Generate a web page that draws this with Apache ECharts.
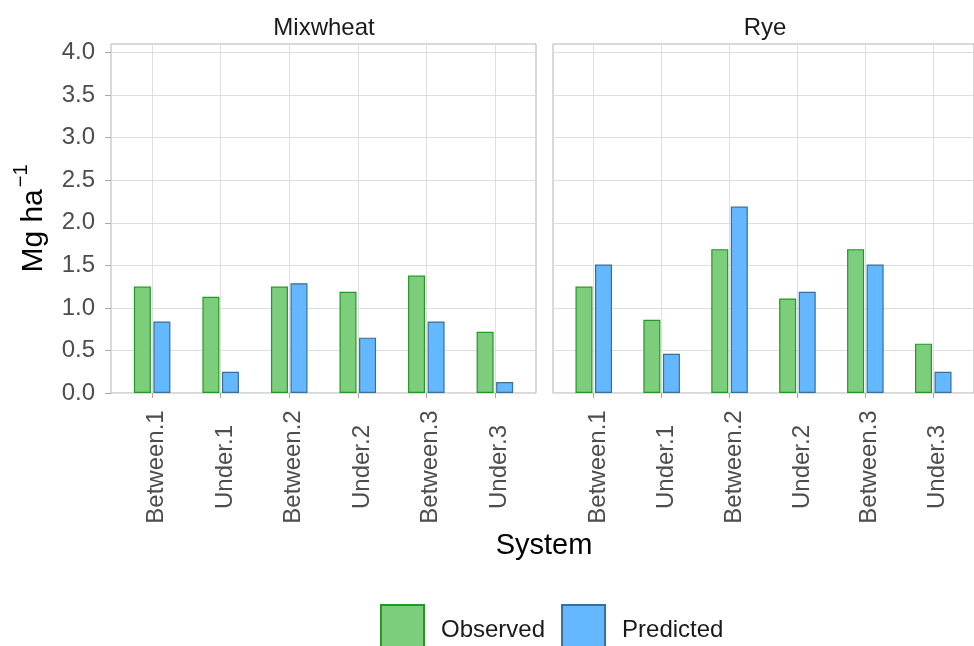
<!DOCTYPE html>
<html>
<head>
<meta charset="utf-8">
<script src="https://cdn.jsdelivr.net/npm/echarts@6/dist/echarts.min.js"></script>
<style>html,body{margin:0;padding:0;background:#fff;}#c{width:974px;height:646px;}</style>
</head>
<body>
<div id="c"></div>
<script>
const categories = ['Between.1', 'Under.1', 'Between.2', 'Under.2', 'Between.3', 'Under.3'];
const panels = ['Mixwheat', 'Rye'];
const mixwheatObserved = [1.25, 1.13, 1.25, 1.19, 1.38, 0.72];
const mixwheatPredicted = [0.84, 0.25, 1.29, 0.65, 0.84, 0.13];
const ryeObserved = [1.25, 0.86, 1.69, 1.11, 1.69, 0.58];
const ryePredicted = [1.51, 0.46, 2.19, 1.19, 1.51, 0.25];
const yTicks = [0, 0.5, 1.0, 1.5, 2.0, 2.5, 3.0, 3.5, 4.0];

const FONT = '"Liberation Sans", Arial, sans-serif';
const catIdx = categories.map((c, i) => i);
const toPts = arr => arr.map((v, i) => [i, v]);

const grids = [
  { left: 111, top: 44, width: 425, height: 349, show: true, borderColor: '#b3b3b3', borderWidth: 1, backgroundColor: '#fff' },
  { left: 553, top: 44, width: 425, height: 349, show: true, borderColor: '#b3b3b3', borderWidth: 1, backgroundColor: '#fff' }
];

function xAxisFor(i) {
  return {
    type: 'value', gridIndex: i, min: -0.6, max: 5.6,
    axisLine: { show: false, onZero: false },
    axisTick: { show: true, length: 5, lineStyle: { color: '#a8a8a8' }, customValues: catIdx },
    axisLabel: {
      customValues: catIdx, rotate: 90, align: 'center', verticalAlign: 'middle', margin: 74,
      color: '#4d4d4d', fontSize: 24, fontFamily: FONT,
      formatter: v => '{p|' + (categories[Math.round(v)] || '') + '}',
      rich: { p: { fontSize: 24, fontFamily: FONT, color: '#4d4d4d', padding: [9, 0, 0, 0] } }
    },
    splitLine: { show: true, lineStyle: { color: '#dedede', width: 1 } }
  };
}

function yAxisFor(i) {
  const base = {
    type: 'value', gridIndex: i, min: 0, max: 4.1,
    axisLine: { show: false, onZero: false },
    splitLine: { show: true, lineStyle: { color: '#dedede', width: 1 } },
  };
  if (i === 0) {
    return Object.assign(base, {
      axisTick: { show: true, length: 6, lineStyle: { color: '#a8a8a8' }, customValues: yTicks },
      axisLabel: { customValues: yTicks, color: '#4d4d4d', fontSize: 24, fontFamily: FONT, margin: 16,
        formatter: v => v.toFixed(1) },
      name: '{a|Mg ha}{b|\u22121}',
      nameLocation: 'middle', nameGap: 62, nameRotate: 90,
      nameTextStyle: {
        rich: {
          a: { fontSize: 30, fontFamily: FONT, color: '#000', verticalAlign: 'bottom' },
          b: { fontSize: 20, fontFamily: FONT, color: '#000', verticalAlign: 'bottom', padding: [0, 0, 18, 2] }
        }
      }
    });
  }
  return Object.assign(base, {
    axisTick: { show: false, customValues: yTicks },
    axisLabel: { show: false, customValues: yTicks }
  });
}

const obsStyle = { color: '#7CCD7C', borderColor: '#229922', borderWidth: 1.2 };
const predStyle = { color: '#63B8FF', borderColor: '#3B6E9B', borderWidth: 1.2 };

const series = [];
[[mixwheatObserved, mixwheatPredicted], [ryeObserved, ryePredicted]].forEach((pair, gi) => {
  series.push({ type: 'bar', name: 'Observed', xAxisIndex: gi, yAxisIndex: gi, data: toPts(pair[0]),
    barWidth: 17, barGap: '15%', itemStyle: obsStyle, emphasis: { disabled: true } });
  series.push({ type: 'bar', name: 'Predicted', xAxisIndex: gi, yAxisIndex: gi, data: toPts(pair[1]),
    barWidth: 17, barGap: '15%', itemStyle: predStyle, emphasis: { disabled: true } });
});

const option = {
  animation: false,
  backgroundColor: '#fff',
  title: [
    { text: panels[0], left: 319, top: 11, textAlign: 'center', textStyle: { fontSize: 24, fontWeight: 'normal', color: '#1a1a1a', fontFamily: FONT } },
    { text: panels[1], left: 760, top: 11, textAlign: 'center', textStyle: { fontSize: 24, fontWeight: 'normal', color: '#1a1a1a', fontFamily: FONT } },
    { text: 'System', left: 539, top: 526, textAlign: 'center', textStyle: { fontSize: 29, fontWeight: 'normal', color: '#000', fontFamily: FONT } }
  ],
  legend: {
    data: ['Observed', 'Predicted'], left: 380, top: 604, padding: 0, itemWidth: 43, itemHeight: 50, itemGap: 16,
    icon: 'rect',
    textStyle: { fontSize: 24, color: '#1a1a1a', fontFamily: FONT, padding: [0, 0, 0, 12] },
    selectedMode: false
  },
  grid: grids,
  xAxis: [xAxisFor(0), xAxisFor(1)],
  yAxis: [yAxisFor(0), yAxisFor(1)],
  series: series
};

const chart = echarts.init(document.getElementById('c'), null, { renderer: 'canvas' });
chart.setOption(option);
</script>
</body>
</html>
